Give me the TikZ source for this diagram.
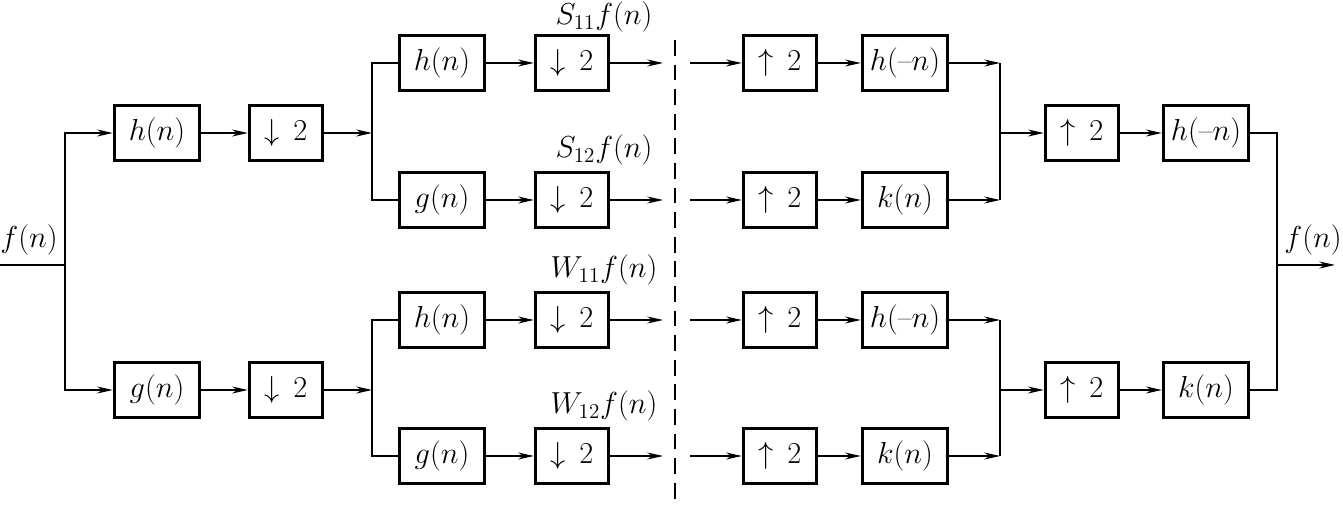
\documentclass[tikz,border=0pt]{standalone}
\usepackage{tikz}
\usetikzlibrary{arrows.meta}

\begin{document}
\begin{tikzpicture}[x=0.02cm,y=-0.02cm,>={Stealth[length=9pt,width=4pt,inset=3pt]},
  line width=0.6pt,
  blk/.style={draw,line width=2pt,minimum width=1.7cm,minimum height=1.1cm,inner sep=0pt,font=\fontsize{17}{20}\selectfont},
  rs/.style={blk,minimum width=1.46cm},
  lbl/.style={inner sep=1pt,font=\fontsize{17}{20}\selectfont}]
\useasboundingbox (0,0) rectangle (1343,506);
% analysis, first level
\node[blk] (h1) at (157,133) {$h(n)$};
\node[rs]  (d1) at (286,133) {$\downarrow\,2$};
\node[blk] (g1) at (157,390) {$g(n)$};
\node[rs]  (d2) at (286,390) {$\downarrow\,2$};
% analysis, second level
\node[blk] (h2) at (442,63)  {$h(n)$};
\node[rs]  (dd1) at (572,63) {$\downarrow\,2$};
\node[blk] (g2) at (442,200) {$g(n)$};
\node[rs]  (dd2) at (572,200) {$\downarrow\,2$};
\node[blk] (h3) at (442,320) {$h(n)$};
\node[rs]  (dd3) at (572,320) {$\downarrow\,2$};
\node[blk] (g3) at (442,456) {$g(n)$};
\node[rs]  (dd4) at (572,456) {$\downarrow\,2$};
% synthesis, first level
\node[rs]  (u1) at (780,63)  {$\uparrow\,2$};
\node[blk] (r1) at (905,63)  {$h(\mbox{--}n)$};
\node[rs]  (u2) at (780,200) {$\uparrow\,2$};
\node[blk] (r2) at (905,200) {$k(n)$};
\node[rs]  (u3) at (780,320) {$\uparrow\,2$};
\node[blk] (r3) at (905,320) {$h(\mbox{--}n)$};
\node[rs]  (u4) at (780,456) {$\uparrow\,2$};
\node[blk] (r4) at (905,456) {$k(n)$};
% synthesis, second level
\node[rs]  (u5) at (1082,133) {$\uparrow\,2$};
\node[blk] (r5) at (1206,133) {$h(\mbox{--}n)$};
\node[rs]  (u6) at (1082,390) {$\uparrow\,2$};
\node[blk] (r6) at (1206,390) {$k(n)$};
% labels
\node[lbl] (fin)  at (29,240)   {$f(n)$};
\node[lbl] (fout) at (1313,240) {$f(n)$};
\node[lbl] (ls1) at (604,17)  {$S_{11}f(n)$};
\node[lbl] (ls2) at (604,150) {$S_{12}f(n)$};
\node[lbl] (lw1) at (604,270) {$W_{11}f(n)$};
\node[lbl] (lw2) at (604,406) {$W_{12}f(n)$};
% junctions
\coordinate (in) at (0,265);
\coordinate (sp) at (65,265);
\coordinate (j1) at (372,133);
\coordinate (j2) at (372,390);
\coordinate (m1) at (1000,133);
\coordinate (m2) at (1000,390);
\coordinate (os) at (1277,265);
\coordinate (out) at (1335,265);
\coordinate (e1) at (663,63);  \coordinate (s1) at (690,63);
\coordinate (e2) at (663,200); \coordinate (s2) at (690,200);
\coordinate (e3) at (663,320); \coordinate (s3) at (690,320);
\coordinate (e4) at (663,456); \coordinate (s4) at (690,456);
\coordinate (dt) at (675,40);
\coordinate (db) at (675,506);
% connectors
\draw (in) -- (sp);
\draw[->] (sp) |- (h1);
\draw[->] (sp) |- (g1);
\draw[->] (h1) -- (d1);
\draw[->] (g1) -- (d2);
\draw[->] (d1) -- (j1);
\draw[->] (d2) -- (j2);
\draw (h2) -| (j1) |- (g2);
\draw (h3) -| (j2) |- (g3);
\draw[->] (h2) -- (dd1); \draw[->] (dd1) -- (e1);
\draw[->] (g2) -- (dd2); \draw[->] (dd2) -- (e2);
\draw[->] (h3) -- (dd3); \draw[->] (dd3) -- (e3);
\draw[->] (g3) -- (dd4); \draw[->] (dd4) -- (e4);
\draw[line width=0.9pt,dash pattern=on 9pt off 5pt] (dt) -- (db);
\draw[->] (s1) -- (u1); \draw[->] (u1) -- (r1);
\draw[->] (s2) -- (u2); \draw[->] (u2) -- (r2);
\draw[->] (s3) -- (u3); \draw[->] (u3) -- (r3);
\draw[->] (s4) -- (u4); \draw[->] (u4) -- (r4);
\draw[->] (r1) -- (r1 -| m1);
\draw[->] (r2) -- (r2 -| m1);
\draw[->] (r3) -- (r3 -| m2);
\draw[->] (r4) -- (r4 -| m2);
\draw (r1 -| m1) -- (r2 -| m1);
\draw (r3 -| m2) -- (r4 -| m2);
\draw[->] (m1) -- (u5); \draw[->] (u5) -- (r5);
\draw[->] (m2) -- (u6); \draw[->] (u6) -- (r6);
\draw (r5) -| (os) |- (r6);
\draw[->] (os) -- (out);
\end{tikzpicture}
\end{document}
